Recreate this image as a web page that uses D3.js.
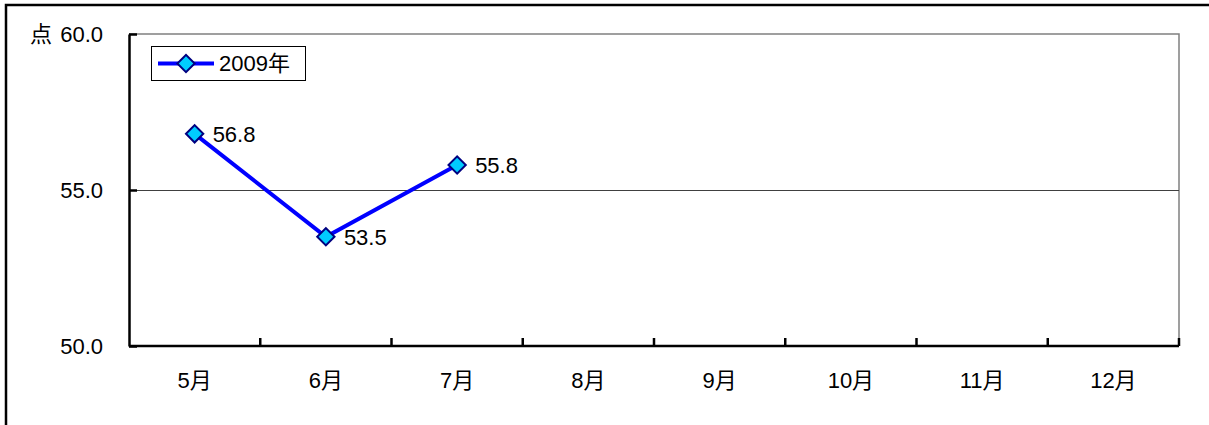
<!DOCTYPE html>
<html>
<head>
<meta charset="utf-8">
<script src="https://cdn.jsdelivr.net/npm/d3@7"></script>
<style>
  body { margin: 0; background: #fff; overflow: hidden; }
  text { font-family: "Liberation Sans", Arial, "Noto Sans CJK SC", sans-serif; }
</style>
</head>
<body>
<div id="chart"></div>
<script>
// chart data
const months = ["5月", "6月", "7月", "8月", "9月", "10月", "11月", "12月"];
const values = [56.8, 53.5, 55.8];
const yTicks = [50, 55, 60];
const seriesName = "2009年";
const unitLabel = "点";

const w = 1209;
const h = 425;
const fs = 22;
const svg = d3.select("#chart").append("svg")
  .attr("width", w)
  .attr("height", h)
  .attr("viewBox", [0, 0, w, h])
  .style("display", "block");

// outer frame (only top and left visible)
svg.append("path")
  .attr("d", `M6,${h}V5H${w}`)
  .attr("fill", "none")
  .attr("stroke", "#000")
  .attr("stroke-width", 2.5);

// plot area
const plotL = 129, plotR = 1179, plotT = 34, plotB = 346;

const x = d3.scaleBand().domain(months).range([plotL, plotR]);
const y = d3.scaleLinear().domain([50, 60]).range([plotB, plotT]);

// plot border top/right grey
svg.append("path")
  .attr("d", `M${plotL},${plotT}H${plotR}V${plotB}`)
  .attr("fill", "none")
  .attr("stroke", "#808080")
  .attr("stroke-width", 1.5);

// gridlines
svg.append("g")
  .selectAll("line")
  .data(yTicks.filter(t => t > 50 && t < 60))
  .join("line")
  .attr("x1", plotL).attr("x2", plotR)
  .attr("y1", d => Math.round(y(d)) + 0.5).attr("y2", d => Math.round(y(d)) + 0.5)
  .attr("stroke", "#404040")
  .attr("stroke-width", 1);

// y axis
const yAxis = d3.axisLeft(y)
  .tickValues(yTicks)
  .tickFormat(d3.format(".1f"))
  .tickSizeInner(-8)
  .tickSizeOuter(0)
  .tickPadding(26);

const yAxisG = svg.append("g")
  .attr("transform", `translate(${plotL},0)`)
  .call(yAxis);
yAxisG.attr("font-family", null).attr("font-size", fs);
yAxisG.select(".domain").attr("stroke", "#000").attr("stroke-width", 2.5);
yAxisG.selectAll(".tick line").attr("stroke", "#000").attr("stroke-width", 2.5);
yAxisG.selectAll(".tick text").attr("fill", "#000");

svg.append("text")
  .attr("x", 52)
  .attr("y", y(60))
  .attr("dy", "0.35em")
  .attr("text-anchor", "end")
  .attr("font-size", fs)
  .text(unitLabel);

// x axis labels at category centers
const xAxis = d3.axisBottom(x).tickSize(0).tickPadding(26);
const xAxisG = svg.append("g")
  .attr("transform", `translate(0,${plotB})`)
  .call(xAxis);
xAxisG.attr("font-family", null).attr("font-size", fs);
xAxisG.select(".domain").remove();
xAxisG.selectAll(".tick text").attr("fill", "#000");

// x axis line and boundary ticks
svg.append("line")
  .attr("x1", plotL).attr("x2", plotR)
  .attr("y1", plotB).attr("y2", plotB)
  .attr("stroke", "#000").attr("stroke-width", 2.5);

svg.append("g")
  .selectAll("line")
  .data(months.slice(1).map(m => x(m)).concat([x.range()[1]]))
  .join("line")
  .attr("x1", d => d).attr("x2", d => d)
  .attr("y1", plotB).attr("y2", plotB - 8)
  .attr("stroke", "#000").attr("stroke-width", 2.5);

// series
const pts = values.map((v, i) => ({ m: months[i], v }));
const cx = d => x(d.m) + x.bandwidth() / 2;

svg.append("path")
  .datum(pts)
  .attr("d", d3.line().x(cx).y(d => y(d.v)))
  .attr("fill", "none")
  .attr("stroke", "#0000FF")
  .attr("stroke-width", 4);

const diamond = d3.symbol().type(d3.symbolSquare).size(150);

svg.append("g")
  .selectAll("path")
  .data(pts)
  .join("path")
  .attr("d", diamond)
  .attr("transform", d => `translate(${cx(d)},${y(d.v)}) rotate(45)`)
  .attr("fill", "#00CCFF")
  .attr("stroke", "#000080")
  .attr("stroke-width", 2);

svg.append("g")
  .selectAll("text")
  .data(pts)
  .join("text")
  .attr("x", d => cx(d) + 18)
  .attr("y", d => y(d.v))
  .attr("dy", "0.35em")
  .attr("font-size", fs)
  .text(d => d.v.toFixed(1));

// legend
const lg = svg.append("g").attr("transform", "translate(151,46)");
lg.append("rect")
  .attr("x", 0.5).attr("y", 0.5)
  .attr("width", 154).attr("height", 34)
  .attr("fill", "#fff")
  .attr("stroke", "#000")
  .attr("stroke-width", 1);
lg.append("line")
  .attr("x1", 7).attr("x2", 63)
  .attr("y1", 17.5).attr("y2", 17.5)
  .attr("stroke", "#0000FF")
  .attr("stroke-width", 4);
lg.append("path")
  .attr("d", diamond)
  .attr("transform", "translate(35,17.5) rotate(45)")
  .attr("fill", "#00CCFF")
  .attr("stroke", "#000080")
  .attr("stroke-width", 2);
lg.append("text")
  .attr("x", 68)
  .attr("y", 17.5)
  .attr("dy", "0.35em")
  .attr("font-size", fs)
  .text(seriesName);
</script>
</body>
</html>
